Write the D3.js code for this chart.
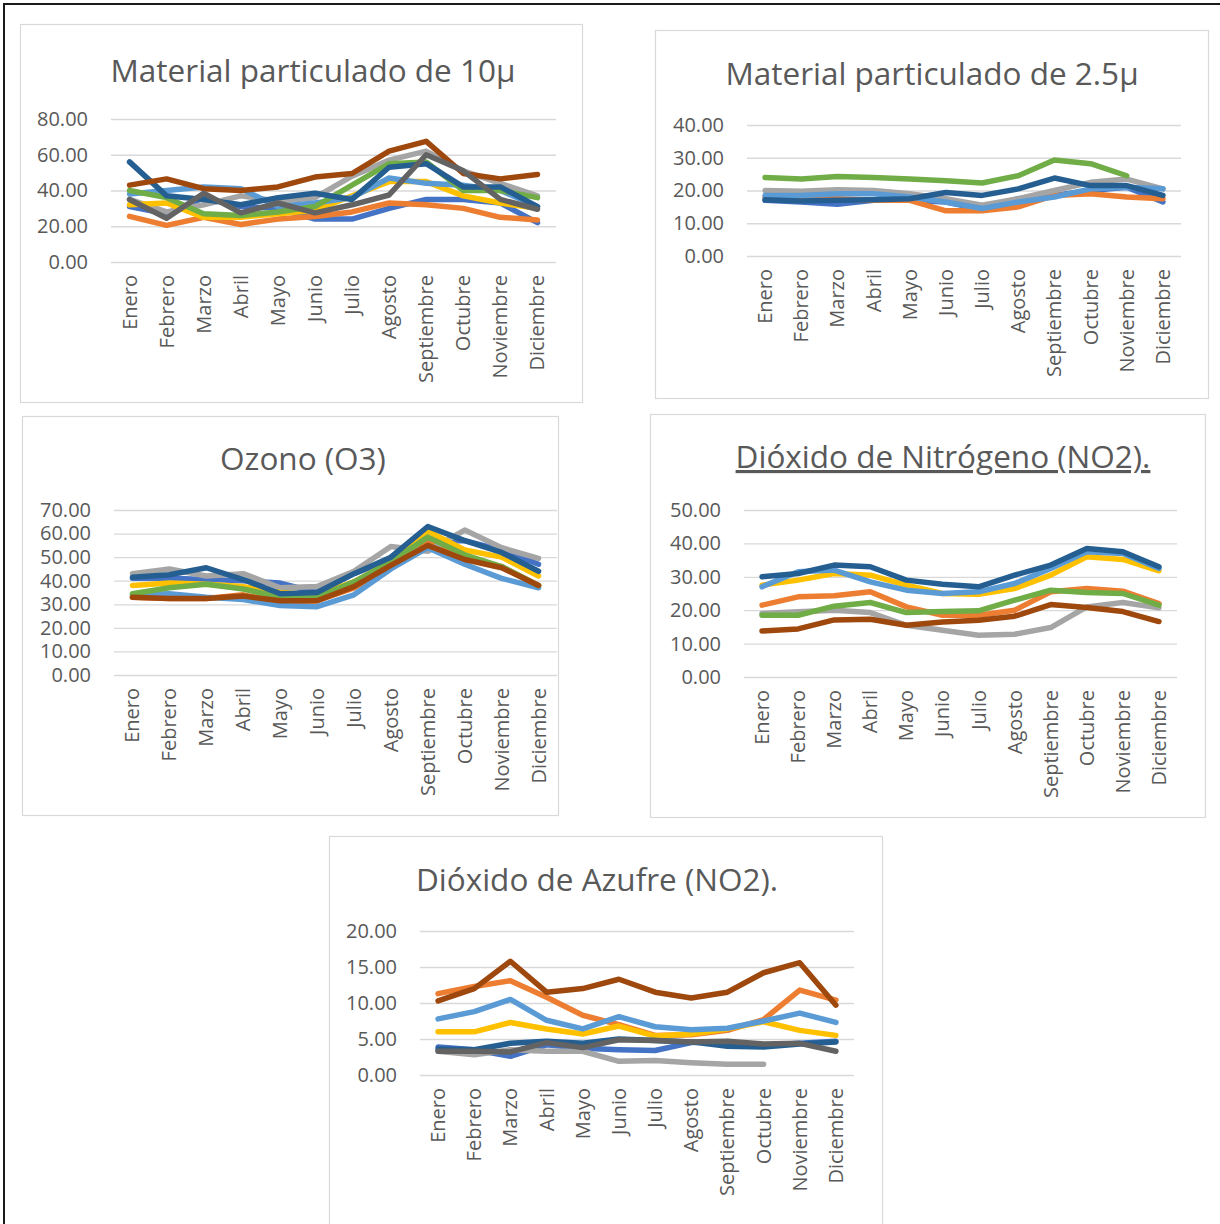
<!DOCTYPE html>
<html>
<head>
	<meta charset="utf-8">
	<title>Contaminantes por mes</title>
	<style type="text/css">
		html, body {
			margin: 0;
			background-color: #fff;
		}
		svg text {
			font-family: "Open Sans", "Noto Sans", sans-serif;
			fill: #595959;
		}
	</style>
</head>
<body>
	<svg id="chart" width="1220" height="1224"></svg>
	<script src="https://cdnjs.cloudflare.com/ajax/libs/d3/7.8.5/d3.min.js"></script>
	<script type="text/javascript">
		const months = ['Enero', 'Febrero', 'Marzo', 'Abril', 'Mayo', 'Junio', 'Julio',
			'Agosto', 'Septiembre', 'Octubre', 'Noviembre', 'Diciembre'];

		// Material particulado 10µ
		const pm10Keys = ['azul', 'naranja', 'gris', 'amarillo', 'celeste', 'verde', 'marino', 'cafe', 'grisOscuro'];
		const pm10Values = [
			[31, 27, 36, 31, 30, 24, 24, 30, 35, 35, 33, 22],
			[25.5, 20.5, 25, 21, 24, 25.5, 28, 33, 32, 30, 25, 23.5],
			[35, 28, 32, 37, 34, 36, 48, 57, 62, 51, 44, 37],
			[32, 33, 25, 25, 27, 29, 37, 45, 45, 37, 33, 30],
			[38, 40, 42, 41, 31, 33, 36, 47, 44, 43, 40, 31],
			[40, 36, 27, 26, 28, 31, 43, 55, 56, 40, 40, 36],
			[56, 37, 35, 32, 36, 38.5, 35, 53, 55, 42, 42, 31],
			[43, 46.5, 41, 40, 42, 47.5, 49.5, 62, 67.5, 49.5, 46.5, 49],
			[35, 24.5, 38.5, 27.5, 33, 27.5, 32, 37.5, 60, 51, 35, 29.5]
		];
		const pm10Ticks = [0, 20, 40, 60, 80];

		// Material particulado 2.5µ
		const pm25Keys = ['azul', 'naranja', 'gris', 'celeste', 'verde', 'marino'];
		const pm25Values = [
			[17, 16.5, 15.8, 17, 17, 16.5, 14.2, 17.5, 18.5, 20, 21, 16.5],
			[18, 17.5, 17.5, 17, 17, 13.8, 13.8, 15, 18.5, 19, 18, 17.5],
			[20, 19.8, 20.2, 20, 19, 17.5, 15.5, 17.5, 20, 22.5, 23.5, 20.5],
			[18.5, 18.5, 19, 19, 18, 16.5, 14.5, 16.5, 18, 20.5, 21, 20.5],
			[24, 23.5, 24.3, 24, 23.5, 23, 22.3, 24.5, 29.3, 28.2, 24.5, null],
			[17.2, 16.8, 17, 17.2, 17.5, 19.4, 18.5, 20.5, 23.8, 21.5, 21.5, 18.5]
		];
		const pm25Ticks = [0, 10, 20, 30, 40];

		// Ozono
		const o3Keys = ['azul', 'naranja', 'gris', 'amarillo', 'celeste', 'verde', 'marino', 'cafe'];
		const o3Values = [
			[41, 41, 40.5, 40, 39, 35, 43, 49, 57, 57, 53, 47],
			[33, 32.5, 32.5, 34, 31, 31.5, 37, 46, 56, 50, 46, 38],
			[43, 45, 42, 43, 37, 37.5, 44, 54.5, 52.5, 61.5, 54, 49.5],
			[38, 39, 38.5, 37.5, 35, 34, 39.5, 48, 61, 53, 50, 42],
			[34, 34.5, 33, 32, 29.5, 29, 34, 45, 54, 47, 41, 37],
			[34.5, 37, 38.5, 36.5, 33, 33, 39.5, 48, 58.5, 51, 46, 38],
			[41.5, 42.5, 45.5, 40.5, 34.5, 35, 43, 50, 63, 57, 52, 44],
			[33, 32.5, 32.5, 33.5, 31.5, 31.5, 37.5, 46.5, 55, 49, 45.5, 38]
		];
		const o3Ticks = [0, 10, 20, 30, 40, 50, 60, 70];

		// Dióxido de nitrógeno
		const no2Keys = ['naranja', 'gris', 'amarillo', 'celeste', 'verde', 'marino', 'cafe'];
		const no2Values = [
			[21.5, 24, 24.3, 25.5, 21, 18.5, 18.5, 20, 25.5, 26.5, 25.7, 22],
			[19, 19.5, 20, 19.3, 15.5, 14, 12.5, 12.8, 14.8, 21, 22.3, 20.7],
			[27.5, 29, 31, 30.5, 27.5, 25, 24.8, 26.5, 30.5, 36, 35.2, 31.8],
			[27, 31.5, 32, 28.5, 26, 25, 25.5, 28, 32.5, 37.5, 37, 32.5],
			[18.5, 18.5, 21.2, 22.3, 19.3, 19.6, 19.8, 23, 26, 25.3, 25, 21.5],
			[30, 31, 33.5, 33, 29, 27.8, 27, 30.5, 33.5, 38.5, 37.5, 33],
			[13.8, 14.4, 17.1, 17.3, 15.5, 16.5, 17, 18.2, 21.7, 20.8, 19.6, 16.6]
		];
		const no2Ticks = [0, 10, 20, 30, 40, 50];

		// Dióxido de azufre
		const so2Keys = ['azul', 'naranja', 'gris', 'amarillo', 'celeste', 'marino', 'cafe', 'grisOscuro'];
		const so2Values = [
			[3.9, 3.5, 2.6, 4.2, 3.7, 3.5, 3.4, 4.5, 4.6, 4.1, 4.4, 4.7],
			[11.3, 12.3, 13.1, 10.8, 8.3, 7, 5.5, 5.6, 6.2, 7.7, 11.8, 10.4],
			[3.3, 2.8, 3.5, 3.3, 3.3, 1.9, 2.0, 1.7, 1.5, 1.5, null, null],
			[6, 6, 7.3, 6.4, 5.7, 6.8, 5.4, 5.7, 6.4, 7.4, 6.2, 5.5],
			[7.8, 8.8, 10.5, 7.6, 6.4, 8.1, 6.7, 6.3, 6.5, 7.5, 8.6, 7.3],
			[3.6, 3.5, 4.4, 4.7, 4.4, 5.0, 4.8, 4.6, 4.0, 3.9, 4.3, 4.6],
			[10.3, 12, 15.8, 11.5, 12, 13.3, 11.5, 10.7, 11.5, 14.2, 15.6, 9.7],
			[3.3, 3.3, 3.2, 4.5, 3.8, 4.9, 4.8, 4.6, 4.7, 4.3, 4.4, 3.3]
		];
		const so2Ticks = [0, 5, 10, 15, 20];

		const palette = {
			azul: '#4472C4', naranja: '#ED7D31', gris: '#A5A5A5', amarillo: '#FFC000',
			celeste: '#5B9BD5', verde: '#70AD47', marino: '#255E91', cafe: '#9E480E',
			grisOscuro: '#636363'
		};

		const panels = [
			{ title: 'Material particulado de 10µ', keys: pm10Keys, values: pm10Values, ticks: pm10Ticks,
				box: [20, 24, 562, 378], grid: [111, 556], yr: [262, 119], titleXY: [313, 82] },
			{ title: 'Material particulado de 2.5µ', keys: pm25Keys, values: pm25Values, ticks: pm25Ticks,
				box: [655, 30, 553, 368], grid: [747, 1181], yr: [256, 125], titleXY: [932, 85] },
			{ title: 'Ozono (O3)', keys: o3Keys, values: o3Values, ticks: o3Ticks,
				box: [22, 416, 536, 399], grid: [114, 557], yr: [675, 510], titleXY: [303, 470] },
			{ title: 'Dióxido de Nitrógeno (NO2).', keys: no2Keys, values: no2Values, ticks: no2Ticks,
				box: [650, 414, 555, 403], grid: [744, 1177], yr: [677, 510], titleXY: [943, 468], underline: true },
			{ title: 'Dióxido de Azufre (NO2).', keys: so2Keys, values: so2Values, ticks: so2Ticks,
				box: [329, 836, 553, 420], grid: [420, 854], yr: [1075, 931], titleXY: [597, 891] }
		];

		const svg = d3.select('#chart');
		const fmt = d3.format('.2f');

		// marco exterior
		svg.append('path')
			.attr('d', 'M4,1230 L4,4 L1230,4')
			.attr('fill', 'none')
			.attr('stroke', '#1a1a1a')
			.attr('stroke-width', 2);

		function drawPanel(p) {
			const g = svg.append('g');

			g.append('rect')
				.attr('x', p.box[0] + 0.5).attr('y', p.box[1] + 0.5)
				.attr('width', p.box[2]).attr('height', p.box[3])
				.attr('fill', '#fff')
				.attr('stroke', '#D9D9D9')
				.attr('stroke-width', 1.2);

			g.append('text')
				.attr('x', p.titleXY[0]).attr('y', p.titleXY[1])
				.attr('text-anchor', 'middle')
				.style('font-size', '31.5px')
				.style('text-decoration', p.underline ? 'underline' : 'none')
				.text(p.title);

			const xScale = d3.scaleBand()
				.domain(months)
				.range(p.grid)
				.padding(0);

			const yScale = d3.scaleLinear()
				.domain([0, d3.max(p.ticks)])
				.range(p.yr);

			const yAxis = g.append('g')
				.attr('transform', `translate(${p.grid[0]},0)`)
				.call(d3.axisLeft(yScale)
					.tickValues(p.ticks)
					.tickFormat(fmt)
					.tickSize(-(p.grid[1] - p.grid[0]))
					.tickPadding(23));
			yAxis.select('.domain').remove();
			yAxis.selectAll('line').attr('stroke', '#D9D9D9').attr('stroke-width', 1.3);
			yAxis.selectAll('text')
				.style('font-family', '"Open Sans", sans-serif')
				.style('font-size', '20px')
				.attr('fill', '#595959');

			const xAxis = g.append('g')
				.attr('transform', `translate(0,${p.yr[0]})`)
				.call(d3.axisBottom(xScale).tickSize(0));
			xAxis.select('.domain').remove();
			xAxis.selectAll('text')
				.attr('transform', 'rotate(-90)')
				.attr('x', -13)
				.attr('y', 0)
				.attr('dy', '0.35em')
				.style('text-anchor', 'end')
				.style('font-family', '"Open Sans", sans-serif')
				.style('font-size', '20px')
				.attr('fill', '#595959');

			const line = d3.line()
				.defined(d => d != null)
				.x((_, i) => xScale(months[i]) + xScale.bandwidth() / 2)
				.y(d => yScale(d));

			g.append('g')
				.selectAll('path')
				.data(p.values)
				.join('path')
				.attr('d', line)
				.attr('fill', 'none')
				.attr('stroke', (_, i) => palette[p.keys[i]])
				.attr('stroke-width', 5.5)
				.attr('stroke-linejoin', 'round')
				.attr('stroke-linecap', 'round');
		}

		panels.forEach(drawPanel);
	</script>
</body>
</html>
